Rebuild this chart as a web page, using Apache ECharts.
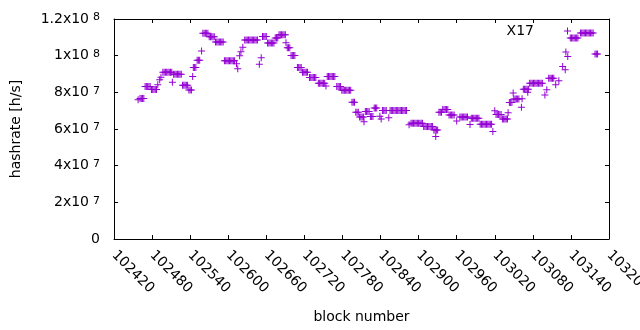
<!DOCTYPE html>
<html>
<head>
<meta charset="utf-8">
<script src="https://cdn.jsdelivr.net/npm/echarts@6/dist/echarts.min.js"></script>
<style>
  html, body { margin: 0; padding: 0; background: #fff; }
  #chart { width: 640px; height: 330px; }
</style>
</head>
<body>
<div id="chart"></div>
<script>
// block numbers (x) and hashrate in units of 1e6 h/s (y)
var blocks = [
  102458,102461,102463,102465,102467,102469,102471,102473,102475,102477,
  102479,102481,102483,102485,102487,102489,102492,102494,
  102497,102499,102501,102503,102505,102507,102509,102511,102512,
  102514,102516,102518,102520,102522,102524,102526,
  102528,102530,102532,102534,102536,102538,102540,102542,
  102544,102545,102547,102549,102551,102553,102555,102558,
  102560,102562,102564,102566,102568,102570,102572,102574,102576,102578,
  102580,102582,102584,102586,102588,102590,102592,
  102594,102596,102598,102600,102602,102604,102606,102608,102610,102613,102615,
  102618,102620,102623,
  102626,102628,102630,102632,102634,102636,102638,102640,102642,102644,102646,
  102649,102652,102654,102656,102658,102660,
  102662,102664,102666,102668,102670,102672,102674,102676,102678,
  102680,102682,102684,102686,102688,102690,102691,102693,102695,102697,
  102699,102701,102703,102705,102709,102711,102713,102715,
  102717,102719,102721,102723,102725,102728,102730,102732,102734,102736,102738,
  102742,102744,102746,102748,102750,102752,102754,
  102756,102758,102760,102762,102764,102766,102768,
  102771,102773,102775,102777,
  102779,102781,102783,102785,102787,102789,102791,102793,
  102795,102797,102799,102801,102803,102805,
  102807,102809,102811,102813,102814,102816,102818,102820,102822,
  102824,102826,102828,102830,102832,102834,102839,102841,
  102843,102845,102847,102849,102853,
  102855,102857,102859,102861,102863,102865,102867,102869,102871,102873,102875,102877,102879,102881,
  102885,
  102888,102890,102892,102894,102896,102898,102900,102902,102904,102906,
  102908,102910,102912,102914,102916,102918,102920,102922,
  102924,102926,102928,102930,102927,
  102932,102934,102936,102938,102940,102942,102944,102946,
  102948,102950,102952,102954,102956,102960,
  102965,102967,102969,102971,102973,102975,102977,102981,
  102983,102985,102987,102989,102991,102993,102995,
  102997,102999,103001,103003,103005,103007,103009,103011,103013,103015,103017,
  103020,103022,103024,103026,103028,103030,
  103032,103034,103036,103038,103040,103041,
  103043,103045,103047,103049,103050,103052,103054,103056,103058,
  103062,103063,103065,103067,103069,103071,103073,103072,
  103075,103077,103079,103081,103083,103085,103087,103089,103091,103093,103095,
  103099,103102,103105,103107,103109,103111,103113,103116,103121,
  103127,103131,103132,103135,
  103139,103141,103143,103145,103147,103149,103151,
  103155,103157,103159,103161,103163,103165,103167,103169,103171,103173,103175,
  103178,103180,103182
];
var hashrate = [
  75.9,76.7,76.7,76.7,76.7,83.2,83.2,83.2,83.2,83.2,
  81.6,81.6,81.6,81.6,81.6,84.1,86.8,88.2,
  90.9,90.9,90.9,90.9,90.9,90.9,90.9,90.9,85.5,
  89.8,89.8,89.8,89.8,89.8,89.8,89.8,
  83.8,83.8,83.8,83.8,83.8,81.3,81.3,81.3,
  88.7,93.5,93.5,93.5,97.5,97.5,97.5,102.6,
  112.2,112.2,112.2,112.2,112.2,110.3,110.3,110.3,110.3,110.3,
  107.4,107.4,107.4,107.4,107.4,107.4,107.4,
  97.2,97.2,97.2,97.2,97.2,97.2,97.2,97.2,97.2,95.6,92.8,
  99.9,102.1,104.6,
  108.5,108.5,108.5,108.5,108.5,108.5,108.5,108.5,108.5,108.5,108.5,
  95.3,98.8,110.5,110.5,110.5,110.5,
  106.9,106.9,106.9,106.9,106.9,106.9,109.6,109.6,109.6,
  111.4,111.4,111.4,111.4,111.4,111.4,107.0,104.3,104.3,104.3,
  100.1,100.1,100.1,100.1,93.5,93.5,93.5,93.5,
  91.0,91.0,91.0,91.0,91.0,88.1,88.1,88.1,88.1,88.1,88.1,
  84.9,84.9,84.9,84.9,84.9,84.9,83.5,
  88.7,88.7,88.7,88.7,88.7,88.7,88.7,
  83.2,83.2,83.2,83.2,
  81.2,81.2,81.2,81.2,81.2,81.2,81.2,81.2,
  74.6,74.6,74.6,69.2,69.2,69.2,
  66.5,66.5,66.5,66.5,64.0,69.5,69.5,69.5,69.5,
  66.8,66.8,66.8,71.4,71.4,71.4,67.0,65.5,
  70.1,70.1,70.1,70.1,66.1,
  70.1,70.1,70.1,70.1,70.1,70.1,70.1,70.1,70.1,70.1,70.1,70.1,70.1,70.1,
  62.3,
  63.2,63.2,63.2,63.2,63.2,63.2,63.2,63.2,63.2,63.2,
  61.3,61.3,61.3,61.3,61.3,61.3,61.3,61.3,
  59.5,59.5,59.5,59.5,55.9,
  69.2,69.2,69.2,70.6,70.6,70.6,70.6,70.6,
  67.7,67.7,67.7,67.7,67.7,64.4,
  66.5,66.5,66.5,66.5,66.5,66.5,66.5,62.5,
  65.9,65.9,65.9,65.9,65.9,65.9,65.9,
  62.6,62.6,62.6,62.6,62.6,62.6,62.6,62.6,62.6,62.6,58.6,
  69.9,67.9,67.9,67.9,67.9,67.9,
  65.4,65.4,65.4,65.4,65.4,68.8,
  74.4,74.4,74.4,79.7,76.4,76.4,76.4,76.4,76.4,
  71.8,76.5,81.7,81.7,81.7,81.7,81.7,80.0,
  85.0,85.0,85.0,85.0,85.0,85.0,85.0,85.0,85.0,85.0,85.0,
  78.6,81.4,87.7,87.7,87.7,87.7,87.7,84.1,86.3,
  94.1,92.3,102.0,99.5,
  109.6,109.6,109.6,109.6,109.6,109.6,109.6,
  112.3,112.3,112.3,112.3,112.3,112.3,112.3,112.3,112.3,112.3,112.3,
  100.9,100.9,100.9
];
// y tick labels: mantissa and power of ten
var yTickLabels = {
  0: ['0', ''], 20: ['2x10', '7'], 40: ['4x10', '7'], 60: ['6x10', '7'],
  80: ['8x10', '7'], 100: ['1x10', '8'], 120: ['1.2x10', '8']
};
var seriesName = 'X17';

var FONT = 'DejaVu Sans';
var PURPLE = '#9400d3';
var CROSS = 'path://M0,3H7V4H0ZM3,0H4V7H3Z';

var points = blocks.map(function (b, i) { return [b, hashrate[i]]; });

var chart = echarts.init(document.getElementById('chart'), null, { renderer: 'canvas' });

var xBase = {
  type: 'value', min: 102420, max: 103200, interval: 60,
  axisLine: { show: true, onZero: false, lineStyle: { color: '#000', width: 1 } },
  axisTick: { show: true, inside: true, length: 4, lineStyle: { color: '#000' } },
  splitLine: { show: false }
};
var yBase = {
  type: 'value', min: 0, max: 120, interval: 20,
  axisLine: { show: true, onZero: false, lineStyle: { color: '#000', width: 1 } },
  axisTick: { show: true, inside: true, length: 4, lineStyle: { color: '#000' } },
  splitLine: { show: false }
};

chart.setOption({
  animation: false,
  textStyle: { fontFamily: FONT },
  grid: { left: 114, right: 31, top: 19, bottom: 91, containLabel: false, outerBoundsMode: 'none' },
  legend: {
    data: [seriesName], right: 69, top: 24, align: 'right', padding: 0,
    itemWidth: 7, itemHeight: 7, itemGap: 0,
    textStyle: { color: '#000', fontSize: 14, fontFamily: FONT, padding: [0, 25, 0, 0] }
  },
  xAxis: [
    Object.assign({}, xBase, {
      position: 'bottom',
      name: 'block number', nameLocation: 'middle', nameGap: 71,
      nameTextStyle: { color: '#000', fontSize: 14, fontFamily: FONT },
      axisLabel: {
        rotate: -45, margin: 14, color: '#000', fontSize: 14, fontFamily: FONT,
        formatter: function (v) { return String(v); }
      }
    }),
    Object.assign({}, xBase, { position: 'top', axisLabel: { show: false } })
  ],
  yAxis: [
    Object.assign({}, yBase, {
      position: 'left',
      name: 'hashrate [h/s]', nameLocation: 'middle', nameGap: 91,
      nameTextStyle: { color: '#000', fontSize: 14, fontFamily: FONT },
      axisLabel: {
        margin: 14, color: '#000',
        formatter: function (v) {
          var t = yTickLabels[v];
          if (!t) return '';
          return t[1] ? '{m|' + t[0] + '}{e|' + t[1] + '}' : '{m|' + t[0] + '}';
        },
        rich: {
          m: { fontSize: 14, fontFamily: FONT, color: '#000', lineHeight: 14 },
          e: { fontSize: 11, fontFamily: FONT, color: '#000', verticalAlign: 'top', padding: [0, 0, 0, 4] }
        }
      }
    }),
    Object.assign({}, yBase, { position: 'right', axisLabel: { show: false } })
  ],
  series: [{
    name: seriesName,
    type: 'scatter',
    xAxisIndex: 0, yAxisIndex: 0,
    symbol: CROSS,
    symbolSize: 7,
    itemStyle: { color: PURPLE, opacity: 1 },
    emphasis: { disabled: true },
    data: points
  }]
});
</script>
</body>
</html>
